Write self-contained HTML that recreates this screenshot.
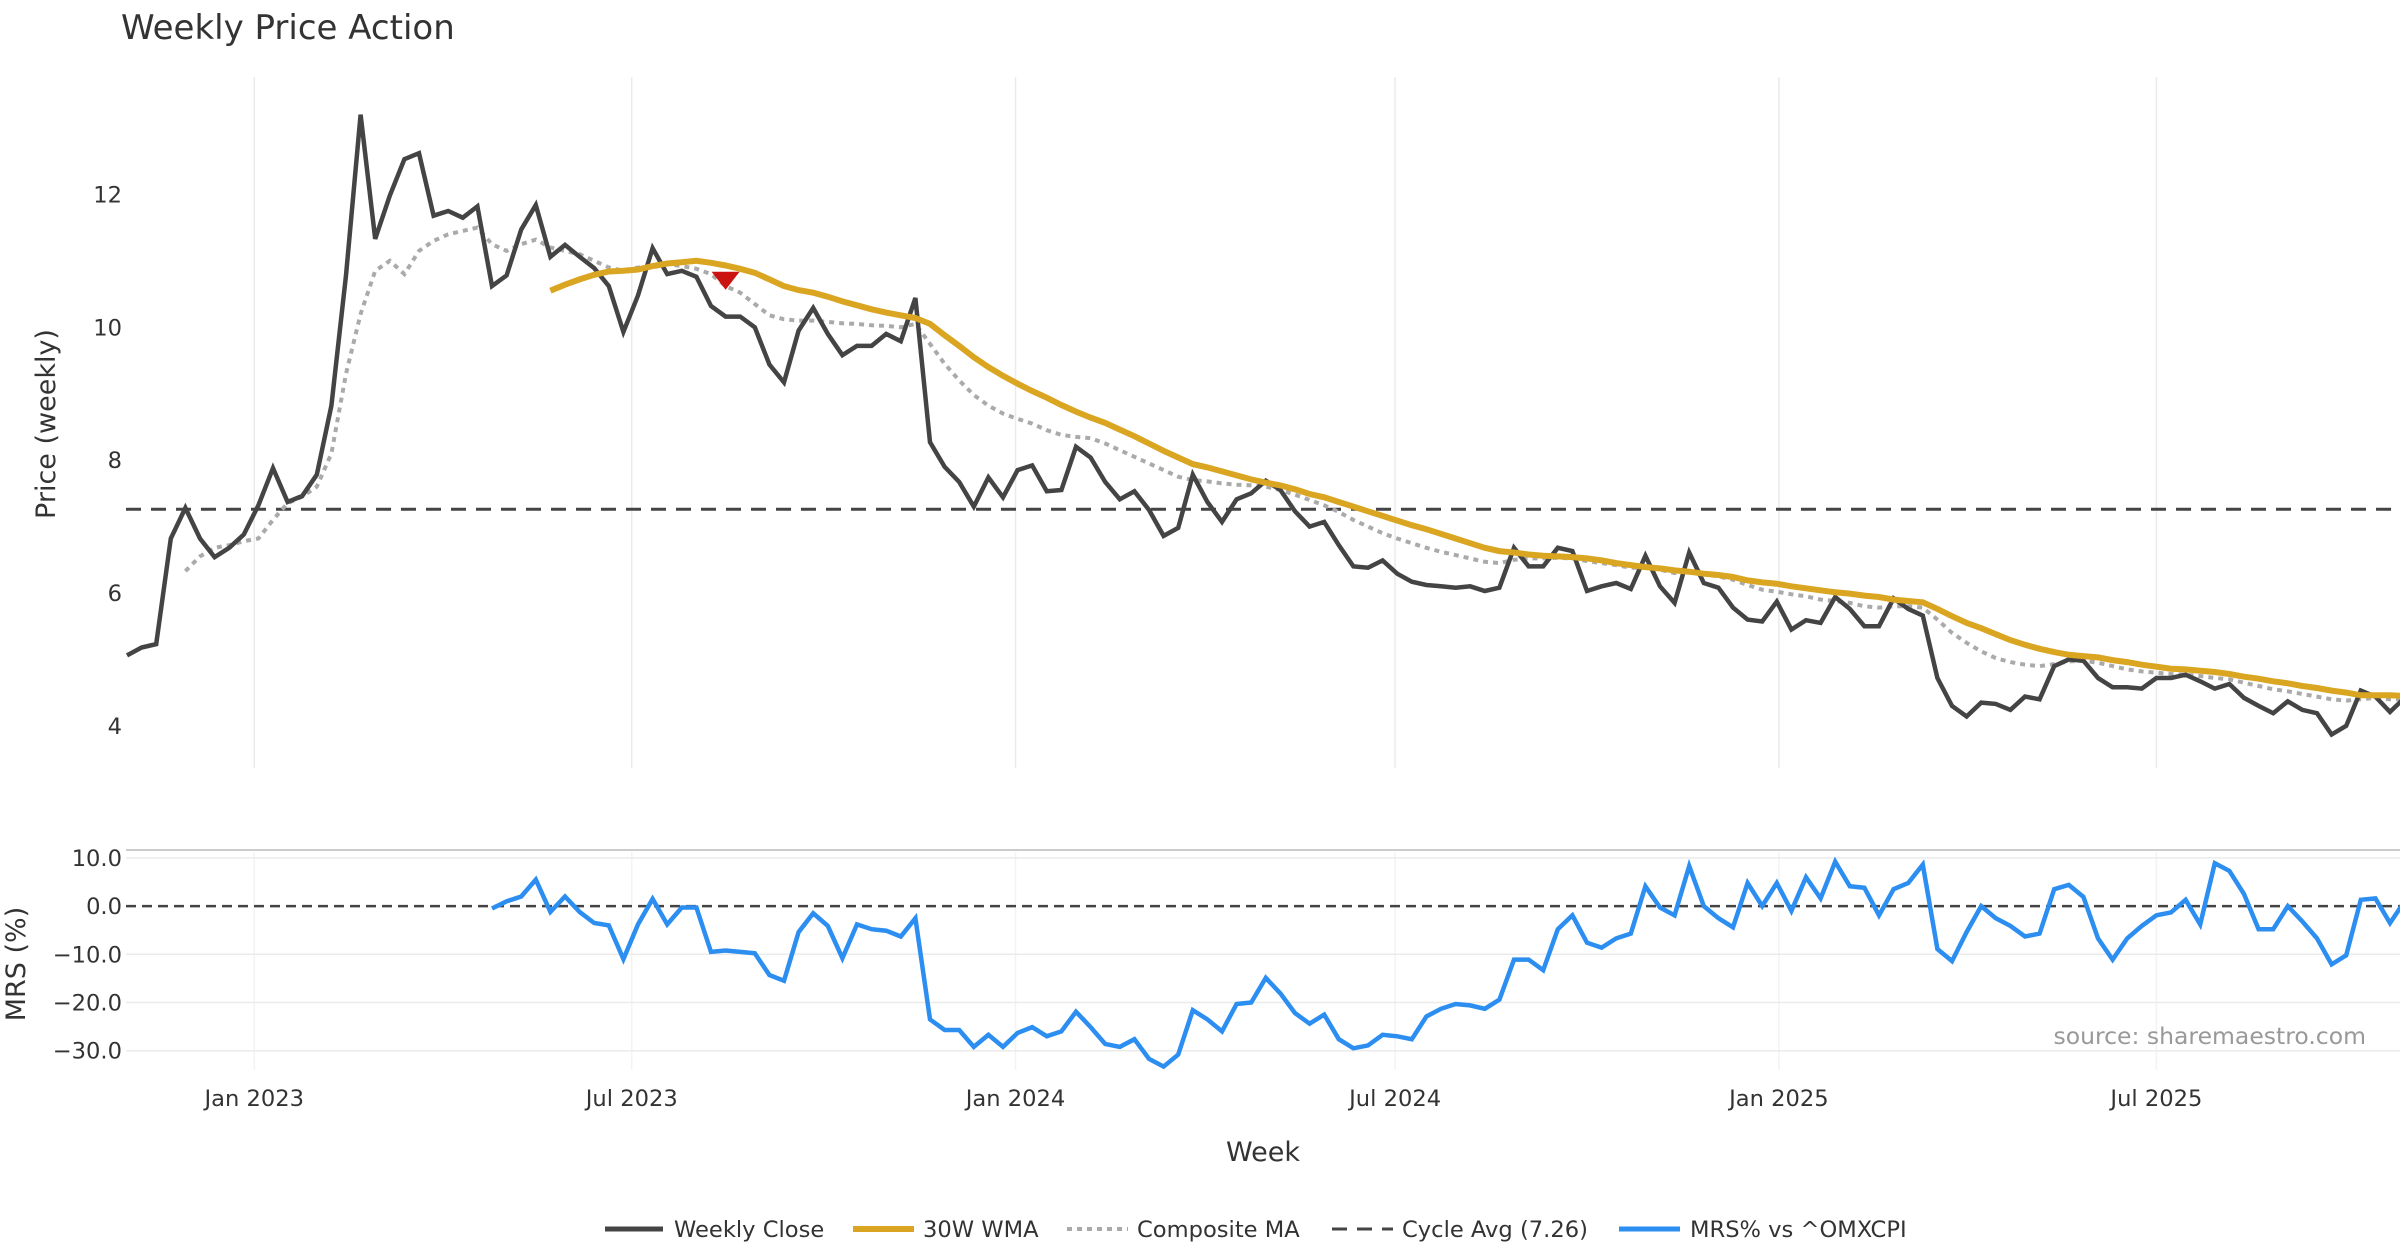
<!DOCTYPE html>
<html><head><meta charset="utf-8">
<style>
html,body{margin:0;padding:0;background:#fff;}
svg{display:block;font-family:"DejaVu Sans","Liberation Sans",sans-serif;}
</style></head>
<body>
<svg id="chart" width="2400" height="1260" viewBox="0 0 2400 1260" xmlns="http://www.w3.org/2000/svg">
<text x="121" y="39" font-size="34" fill="#333">Weekly Price Action</text>
<g id="grid"></g>
<g id="lower-grid"></g>
<line x1="126" x2="2400" y1="850" y2="850" stroke="#ccc" stroke-width="2"/>
<g id="series"></g>
<g id="axes"></g>
<text transform="translate(55,424) rotate(-90)" text-anchor="middle" font-size="27" fill="#333">Price (weekly)</text>
<text transform="translate(25,964) rotate(-90)" text-anchor="middle" font-size="27" fill="#333">MRS (%)</text>
<text x="1263" y="1161" text-anchor="middle" font-size="27" fill="#333">Week</text>
<text x="2366" y="1044" text-anchor="end" font-size="23.5" fill="#999">source: sharemaestro.com</text>
<g font-size="22.6" fill="#333">
 <g><line x1="605" x2="663" y1="1229" y2="1229" stroke="#444" stroke-width="5"/><text x="674" y="1237">Weekly Close</text></g>
 <g><line x1="853" x2="914" y1="1229" y2="1229" stroke="#DAA520" stroke-width="6"/><text x="923" y="1237">30W WMA</text></g>
 <g><line x1="1067" x2="1128" y1="1229" y2="1229" stroke="#aaa" stroke-width="4" stroke-dasharray="5,5"/><text x="1137" y="1237">Composite MA</text></g>
 <g><line x1="1332" x2="1393" y1="1229" y2="1229" stroke="#444" stroke-width="3" stroke-dasharray="15,10"/><text x="1402" y="1237">Cycle Avg (7.26)</text></g>
 <g><line x1="1619" x2="1680" y1="1229" y2="1229" stroke="#2b8ef0" stroke-width="5"/><text x="1690" y="1237">MRS% vs ^OMXCPI</text></g>
</g>
</svg>
<script>
const closePrices=[5.06,5.18,5.23,6.82,7.28,6.82,6.54,6.68,6.88,7.32,7.88,7.37,7.46,7.78,8.82,10.78,13.2,11.33,11.98,12.53,12.62,11.68,11.75,11.65,11.82,10.62,10.78,11.47,11.84,11.06,11.24,11.06,10.89,10.62,9.93,10.48,11.19,10.8,10.85,10.76,10.32,10.16,10.16,10.0,9.44,9.17,9.95,10.29,9.9,9.58,9.72,9.72,9.9,9.79,10.44,8.27,7.9,7.67,7.3,7.74,7.44,7.85,7.92,7.53,7.55,8.2,8.04,7.67,7.41,7.53,7.25,6.86,6.98,7.78,7.37,7.07,7.41,7.5,7.69,7.55,7.23,7.0,7.07,6.72,6.4,6.38,6.49,6.29,6.17,6.12,6.1,6.08,6.1,6.03,6.08,6.68,6.4,6.4,6.68,6.63,6.03,6.1,6.15,6.06,6.56,6.1,5.85,6.61,6.15,6.08,5.78,5.6,5.57,5.87,5.45,5.59,5.55,5.94,5.76,5.5,5.5,5.92,5.76,5.66,4.72,4.3,4.14,4.35,4.33,4.24,4.44,4.4,4.9,5.0,4.98,4.72,4.58,4.58,4.56,4.72,4.72,4.77,4.67,4.56,4.63,4.42,4.3,4.19,4.37,4.24,4.19,3.87,4.0,4.53,4.44,4.21,4.42];
const wmaStart=29;
const wmaValues=[10.55,10.64,10.72,10.79,10.84,10.85,10.87,10.92,10.96,10.98,11.0,10.97,10.93,10.88,10.82,10.72,10.62,10.56,10.52,10.46,10.39,10.33,10.27,10.22,10.18,10.14,10.05,9.88,9.72,9.55,9.40,9.27,9.15,9.04,8.94,8.83,8.73,8.64,8.56,8.46,8.36,8.25,8.14,8.04,7.94,7.89,7.83,7.77,7.71,7.66,7.62,7.56,7.49,7.44,7.37,7.30,7.23,7.16,7.09,7.02,6.96,6.89,6.82,6.75,6.68,6.63,6.61,6.58,6.56,6.55,6.54,6.52,6.49,6.45,6.42,6.39,6.37,6.34,6.32,6.29,6.27,6.24,6.19,6.16,6.14,6.10,6.07,6.04,6.01,5.99,5.96,5.94,5.90,5.88,5.86,5.76,5.65,5.55,5.47,5.38,5.29,5.22,5.16,5.11,5.07,5.05,5.03,4.99,4.96,4.92,4.89,4.86,4.85,4.83,4.81,4.78,4.74,4.71,4.67,4.64,4.60,4.57,4.53,4.50,4.46,4.46,4.46,4.45];
const compStart=4;
const compValues=[6.33,6.55,6.68,6.72,6.78,6.82,7.1,7.35,7.45,7.6,8.1,9.3,10.2,10.85,11.0,10.8,11.15,11.3,11.4,11.45,11.5,11.25,11.15,11.25,11.32,11.2,11.15,11.1,11.0,10.9,10.85,10.9,10.9,10.95,10.92,10.88,10.8,10.62,10.52,10.35,10.18,10.12,10.1,10.1,10.08,10.06,10.05,10.03,10.02,10.0,10.05,9.75,9.45,9.2,8.98,8.82,8.7,8.62,8.55,8.45,8.38,8.35,8.33,8.25,8.15,8.05,7.95,7.85,7.75,7.7,7.68,7.65,7.63,7.62,7.6,7.55,7.48,7.4,7.32,7.22,7.1,7.0,6.9,6.82,6.75,6.68,6.62,6.57,6.52,6.47,6.45,6.5,6.52,6.52,6.53,6.52,6.48,6.45,6.42,6.38,6.38,6.35,6.3,6.32,6.28,6.25,6.2,6.12,6.05,6.02,5.98,5.95,5.9,5.88,5.85,5.8,5.78,5.8,5.8,5.78,5.6,5.4,5.25,5.12,5.02,4.96,4.92,4.9,4.93,4.97,4.98,4.95,4.9,4.85,4.82,4.8,4.78,4.77,4.75,4.72,4.7,4.65,4.6,4.55,4.52,4.48,4.44,4.4,4.38,4.4,4.42,4.4,4.4];
const mrsStart=25;
const mrsValues=[-0.5,1.0,2.0,5.5,-1.2,2.0,-1.2,-3.5,-4,-11,-3.8,1.5,-3.8,-0.3,-0.3,-9.5,-9.2,-9.5,-9.8,-14.3,-15.5,-5.4,-1.5,-4.1,-10.8,-3.8,-4.8,-5.1,-6.3,-2.5,-23.5,-25.7,-25.7,-29.2,-26.7,-29.2,-26.3,-25.1,-27,-26,-21.9,-25.1,-28.6,-29.2,-27.6,-31.7,-33.3,-30.8,-21.6,-23.5,-26,-20.3,-20,-14.9,-18.1,-22.2,-24.4,-22.5,-27.6,-29.5,-28.9,-26.7,-27,-27.6,-22.9,-21.3,-20.3,-20.6,-21.3,-19.4,-11.1,-11.1,-13.3,-4.8,-1.9,-7.6,-8.6,-6.7,-5.7,4.1,-0.3,-1.9,8.3,0,-2.5,-4.4,4.8,0,4.8,-1,6,1.6,9.2,4.1,3.8,-1.9,3.5,4.8,8.6,-8.9,-11.4,-5.4,0,-2.5,-4.1,-6.3,-5.7,3.5,4.4,1.9,-6.7,-11.1,-6.7,-4.1,-1.9,-1.3,1.3,-3.8,8.9,7.3,2.5,-4.8,-4.8,0,-3.2,-6.7,-12.1,-10.2,1.3,1.6,-3.5,1.0];
const cycleAvg=7.26;
const signalIndex=[41];
const signalValue=[10.7];
const priceTicks=[4,6,8,10,12];
const mrsTicks=[10,0,-10,-20,-30];
const mrsTickLabels=["10.0","0.0","\u221210.0","\u221220.0","\u221230.0"];
const dateTicks=["2023-01-01","2023-07-01","2024-01-01","2024-07-01","2025-01-01","2025-07-01"];
const dateTickLabels=["Jan 2023","Jul 2023","Jan 2024","Jul 2024","Jan 2025","Jul 2025"];
const startDate="2022-11-01";

const NS="http://www.w3.org/2000/svg";
const xS=i=>127+14.6*i;
const yP=v=>194.4+(12-v)*66.43;
const yM=v=>906.1-4.821*v;
const dateIdx=d=>(new Date(d)-new Date(startDate))/(7*86400000);
function mk(tag,attrs,parent){const e=document.createElementNS(NS,tag);for(const k in attrs)e.setAttribute(k,attrs[k]);parent.appendChild(e);return e;}
const grid=document.getElementById('grid'),lg=document.getElementById('lower-grid'),ser=document.getElementById('series'),ax=document.getElementById('axes');

dateTicks.forEach((d,k)=>{
  const x=xS(dateIdx(d));
  const g=mk('line',{x1:x,x2:x,y1:77,y2:768,stroke:'#ebebeb','stroke-width':1.5},grid);
  
  
  const g2=mk('line',{x1:x,x2:x,y1:852,y2:1070,stroke:'#f3f3f3','stroke-width':1.5},lg);
  
  
  const t=mk('text',{x:x,y:1106,'text-anchor':'middle','font-size':22.6,fill:'#333'},ax);
  t.textContent=dateTickLabels[k];
  
  
});
priceTicks.forEach(v=>{
  const t=mk('text',{x:122,y:yP(v)+8,'text-anchor':'end','font-size':22.6,fill:'#333'},ax);
  t.textContent=String(v);
  
  
});
mrsTicks.forEach((v,k)=>{
  if(v!==0){const g=mk('line',{x1:126,x2:2400,y1:yM(v),y2:yM(v),stroke:'#ebebeb','stroke-width':1.5},lg);
  
  }
  const t=mk('text',{x:122,y:yM(v)+8,'text-anchor':'end','font-size':22.6,fill:'#333'},ax);
  t.textContent=mrsTickLabels[k];
  
  
});
function path(vals,start,yf){return vals.map((v,k)=>(k?'L':'M')+xS(start+k).toFixed(1)+','+yf(v).toFixed(1)).join('');}

const cyc=mk('line',{x1:126,x2:2400,y1:yP(cycleAvg),y2:yP(cycleAvg),stroke:'#444','stroke-width':3,'stroke-dasharray':'15,10'},ser);


const comp=mk('path',{d:path(compValues,compStart,yP),fill:'none',stroke:'#aaa','stroke-width':4,'stroke-dasharray':'5,5'},ser);


const cl=mk('path',{d:path(closePrices,0,yP),fill:'none',stroke:'#444','stroke-width':4.5,'stroke-linejoin':'miter'},ser);


const wm=mk('path',{d:path(wmaValues,wmaStart,yP),fill:'none',stroke:'#DAA520','stroke-width':6},ser);


signalIndex.forEach((si,k)=>{
  const x=xS(si),y=yP(signalValue[k]);
  const tri=mk('polygon',{points:`${x-14},${y-9} ${x+14},${y-9} ${x},${y+9}`,fill:'#cc1111'},ser);
  
  
});
const zl=mk('line',{x1:126,x2:2400,y1:yM(0),y2:yM(0),stroke:'#444','stroke-width':2.5,'stroke-dasharray':'10,6'},ser);


const mr=mk('path',{d:path(mrsValues,mrsStart,yM),fill:'none',stroke:'#2b8ef0','stroke-width':4.5},ser);


</script>
</body></html>
